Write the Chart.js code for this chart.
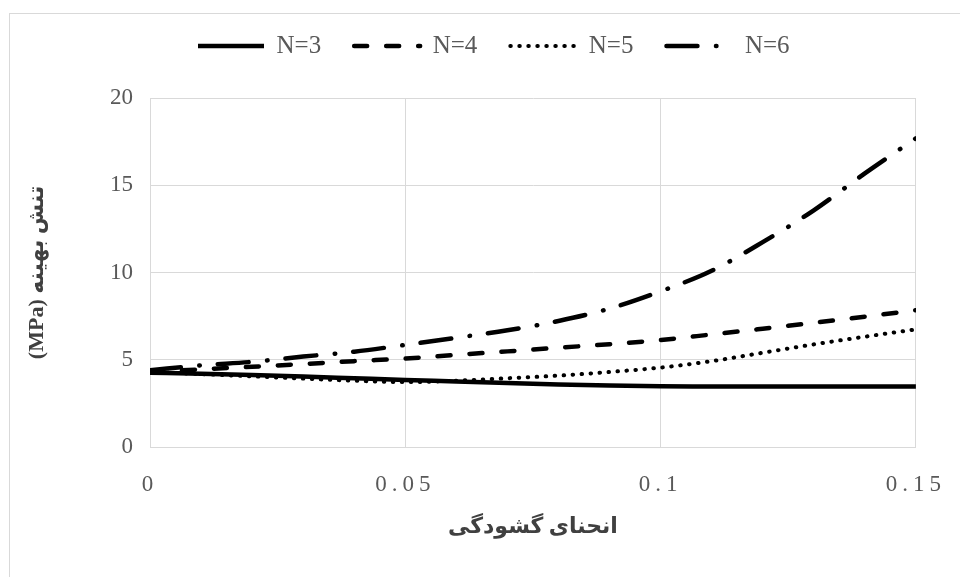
<!DOCTYPE html>
<html>
<head>
<meta charset="utf-8">
<script src="https://cdn.jsdelivr.net/npm/chart.js@4"></script>
<style>
  html, body { margin: 0; padding: 0; background: #ffffff; }
  #wrap { width: 960px; height: 577px; }
</style>
</head>
<body>
<div id="wrap"><canvas id="c" width="960" height="577"></canvas></div>
<script>
// ---- data ----
const curvature = [0, 0.01, 0.02, 0.03, 0.04, 0.05, 0.06, 0.07, 0.08, 0.09, 0.10, 0.11, 0.12, 0.13, 0.14, 0.15];
const seriesN3 = [4.25, 4.20, 4.13, 4.04, 3.94, 3.84, 3.76, 3.67, 3.58, 3.52, 3.48, 3.47, 3.46, 3.46, 3.46, 3.46];
const seriesN4 = [4.30, 4.45, 4.60, 4.75, 4.92, 5.07, 5.28, 5.48, 5.69, 5.89, 6.13, 6.45, 6.78, 7.12, 7.47, 7.84];
const seriesN5 = [4.30, 4.18, 4.05, 3.92, 3.80, 3.72, 3.80, 3.94, 4.09, 4.30, 4.55, 4.92, 5.40, 5.88, 6.32, 6.74];
const seriesN6 = [4.40, 4.68, 4.88, 5.18, 5.46, 5.85, 6.26, 6.69, 7.22, 7.93, 8.92, 10.10, 11.74, 13.56, 15.68, 17.69];
const seriesLabels = ['N=3', 'N=4', 'N=5', 'N=6'];
const xTickLabels = ['0', '0.05', '0.1', '0.15'];
const yTickLabels = ['0', '5', '10', '15', '20'];
const xTitle = 'انحنای گشودگی';
const yTitle = '(MPa) تنش بهینه';

const toPoints = (ys) => curvature.map((x, i) => ({ x: x, y: ys[i] }));

const serif = "'Liberation Serif', 'Times New Roman', 'DejaVu Serif', serif";
const titleFamily = "'Liberation Serif', 'DejaVu Sans', serif";

const frame = {
  id: 'frame',
  beforeDraw(chart) {
    const ctx = chart.ctx;
    ctx.save();
    ctx.fillStyle = '#ffffff';
    ctx.fillRect(0, 0, chart.width, chart.height);
    ctx.strokeStyle = '#d9d9d9';
    ctx.lineWidth = 1;
    ctx.strokeRect(9.5, 13.5, 1200, 1200);
    ctx.restore();
  }
};

const legendPlace = {
  id: 'legendPlace',
  afterLayout(chart) {
    const lg = chart.legend;
    if (!lg || !lg.lineWidths) return;
    const pad = lg.options.labels.padding;
    const x0 = (lg.left + pad + lg.right - lg.lineWidths[0]) / 2;
    const dx = 198 - x0;
    lg.left += dx; lg.right += dx;
    const fs = lg.options.labels.font.size;
    const targetTop = 46 - fs / 2 - pad;
    const dy = targetTop - lg.top;
    lg.top += dy; lg.bottom += dy;
  },
  afterUpdate(chart) {
    const s = chart.scales.x;
    if (s && !s._spaced) {
      const orig = s.drawLabels;
      s.drawLabels = function (area) {
        const c = this.ctx;
        const prev = c.letterSpacing;
        c.letterSpacing = '5px';
        orig.call(this, area);
        c.letterSpacing = prev;
      };
      s._spaced = true;
    }
  }
};

const common = { pointRadius: 0, pointHoverRadius: 0, fill: false, borderColor: '#000000', backgroundColor: '#000000', tension: 0.4, cubicInterpolationMode: 'monotone', pointStyle: 'line' };

new Chart(document.getElementById('c'), {
  type: 'line',
  data: {
    datasets: [
      Object.assign({}, common, { label: seriesLabels[0], data: toPoints(seriesN3), borderWidth: 4.5, borderDash: [], borderCapStyle: 'butt' }),
      Object.assign({}, common, { label: seriesLabels[1], data: toPoints(seriesN4), borderWidth: 4.5, borderDash: [13, 19], borderCapStyle: 'round' }),
      Object.assign({}, common, { label: seriesLabels[2], data: toPoints(seriesN5), borderWidth: 4, borderDash: [0.5, 8.5], borderCapStyle: 'round' }),
      Object.assign({}, common, { label: seriesLabels[3], data: toPoints(seriesN6), borderWidth: 4.5, borderDash: [31, 18.5, 0.5, 18], borderCapStyle: 'round' })
    ]
  },
  options: {
    responsive: false,
    animation: false,
    devicePixelRatio: 1,
    layout: { padding: { left: 10, right: 44, top: 30, bottom: 0 } },
    plugins: {
      tooltip: { enabled: false },
      legend: {
        display: true,
        position: 'top',
        labels: {
          usePointStyle: true,
          pointStyle: 'line',
          pointStyleWidth: 66,
          padding: 33,
          color: '#595959',
          font: { family: serif, size: 25 },
          generateLabels: (chart) => chart.data.datasets.map((ds, i) => ({
            text: ds.label,
            datasetIndex: i,
            hidden: !chart.isDatasetVisible(i),
            fillStyle: ds.borderColor,
            strokeStyle: ds.borderColor,
            fontColor: '#595959',
            lineWidth: ds.borderWidth,
            lineDash: ds.borderDash,
            lineDashOffset: 0,
            lineCap: ds.borderCapStyle,
            lineJoin: 'round',
            pointStyle: 'line',
            rotation: 0
          }))
        }
      }
    },
    scales: {
      x: {
        type: 'linear',
        min: 0,
        max: 0.15,
        afterFit: (s) => { s.height = 130; },
        afterBuildTicks: (s) => { s.ticks = xTickLabels.map((t) => ({ value: parseFloat(t) })); },
        ticks: {
          padding: 24,
          color: '#595959',
          font: { family: serif, size: 23 },
          maxRotation: 0,
          callback: (v, i) => xTickLabels[i]
        },
        grid: { color: '#d9d9d9', lineWidth: 1, drawTicks: false },
        border: { color: '#d9d9d9', width: 1 },
        title: {
          display: true,
          text: xTitle,
          color: '#404040',
          font: { family: titleFamily, size: 22, weight: 'bold' },
          padding: { top: 0, bottom: 36 }
        }
      },
      y: {
        type: 'linear',
        min: 0,
        max: 20,
        afterFit: (s) => { s.width = 140; },
        afterBuildTicks: (s) => { s.ticks = yTickLabels.map((t) => ({ value: parseFloat(t) })); },
        ticks: {
          padding: 17,
          color: '#595959',
          font: { family: serif, size: 23 },
          callback: (v, i) => yTickLabels[i]
        },
        grid: { color: '#d9d9d9', lineWidth: 1, drawTicks: false },
        border: { color: '#d9d9d9', width: 1 },
        title: {
          display: true,
          text: yTitle,
          color: '#404040',
          font: { family: titleFamily, size: 22, weight: 'bold' },
          padding: { top: 14, bottom: 0 }
        }
      }
    }
  },
  plugins: [frame, legendPlace]
});
</script>
</body>
</html>
